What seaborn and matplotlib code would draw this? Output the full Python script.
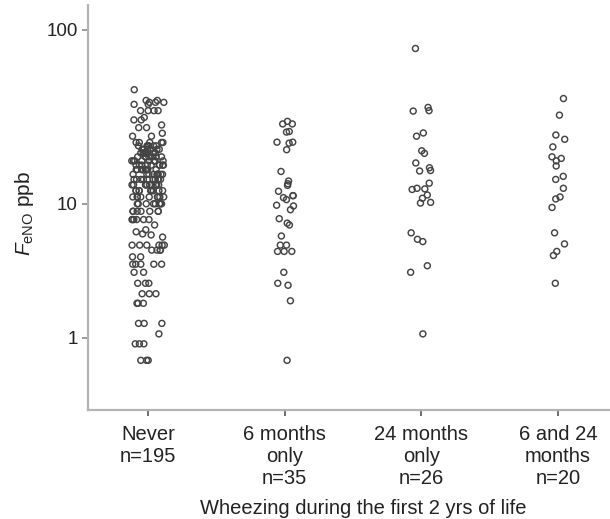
import numpy as np
import pandas as pd
import seaborn as sns
import matplotlib
matplotlib.use("Agg")
import matplotlib.pyplot as plt
from matplotlib.ticker import FixedLocator, NullLocator

# categories and tick labels
groups = ["Never", "6 months only", "24 months only", "6 and 24 months"]
tick_labels = ["Never\nn=195", "6 months\nonly\nn=35", "24 months\nonly\nn=26", "6 and 24\nmonths\nn=20"]

# FeNO (ppb); "Never" kept as value + count
never_vals = [46, 40, 39, 38, 35, 32, 31, 29, 28, 26, 25,
              23, 22, 21, 20, 19, 18, 17, 16, 15, 14, 13, 12, 11, 10, 9, 8,
              7.4, 6.9, 6.7, 6.5, 6.4, 6.2, 5.5, 5.1, 4.6, 4.1, 3.6, 3.0,
              2.5, 2.1, 1.4, 1.1, 0.85, 0.5]
never_counts = [1, 2, 3, 2, 4, 1, 2, 1, 2, 1, 2,
                5, 6, 7, 8, 8, 9, 9, 10, 10, 10, 10, 9, 9, 8, 7, 6,
                1, 1, 1, 1, 1, 1, 6, 4, 2, 5, 2, 3,
                3, 3, 3, 1, 3, 3]

m6_vals = [29.4, 29.4, 30.4, 26.4, 26.6, 23.1, 22.8, 23.1, 20.9, 15.6,
           13.2, 13.7, 12.9, 11.9, 11.2, 11.2, 10.9, 10.6, 9.8, 9.7,
           9.2, 7.6, 7.4, 8.1, 6.3, 5.5, 5.5, 5.0, 5.0, 5.0,
           3.6, 3.0, 2.9, 2.2, 0.5]

m24_vals = [78.4, 36.5, 34.8, 35.0, 26.1, 25.0, 20.6, 19.9, 17.5, 16.4,
            15.7, 15.8, 13.3, 12.2, 12.3, 12.4, 11.3, 10.8, 10.1, 10.2,
            6.6, 5.8, 6.0, 3.6, 4.0, 1.1]

both_vals = [41.0, 33.0, 25.4, 24.0, 21.7, 19.0, 18.6, 18.0, 16.8, 14.6,
             14.0, 12.4, 11.0, 10.7, 9.5, 6.6, 5.6, 5.0, 4.7, 3.0]

jitters = [0.12, 0.065, 0.085, 0.05]

group_vals = [list(np.repeat(never_vals, never_counts)), m6_vals, m24_vals, both_vals]

sns.set_theme(style="white")
plt.rcParams["font.family"] = ["Liberation Sans", "DejaVu Sans"]
plt.rcParams["mathtext.fontset"] = "custom"
plt.rcParams["mathtext.rm"] = "Liberation Sans"
plt.rcParams["mathtext.it"] = "Liberation Sans:italic"

np.random.seed(7)
fig = plt.figure(figsize=(6.1, 5.19), dpi=100)
ax = fig.add_axes([0.1443, 0.21, 0.8557, 0.78])

for g, vals, j in zip(groups, group_vals, jitters):
    d = pd.DataFrame({"group": [g] * len(vals), "feno": vals})
    sns.stripplot(data=d, x="group", y="feno", order=groups, jitter=j,
                  size=4.3, marker="o", ax=ax)

for coll in ax.collections:
    coll.set_facecolor("none")
    coll.set_edgecolor("#444444")
    coll.set_linewidth(1.05)

fwd = lambda v: np.log10(np.clip(np.asarray(v, dtype=float) + 1, 1e-9, None))
inv = lambda t: 10 ** np.asarray(t, dtype=float) - 1
ax.set_yscale("function", functions=(fwd, inv))
ax.set_ylim(-0.203, 136.8)
ax.set_xlim(-0.44, 3.38)

ax.yaxis.set_major_locator(FixedLocator([1, 10, 100]))
ax.yaxis.set_minor_locator(NullLocator())
ax.set_yticklabels(["1", "10", "100"])
ax.set_xticks(range(4))
ax.set_xticklabels(tick_labels, linespacing=1.2)

ax.tick_params(axis="y", which="major", left=True, length=4, width=1.2,
               color="#8a8a8a", labelsize=13.5, labelcolor="#222222", pad=3.5)
ax.tick_params(axis="x", which="major", bottom=True, length=4, width=1.2,
               color="#555555", labelsize=14.5, labelcolor="#222222", pad=7)

for s in ["top", "right"]:
    ax.spines[s].set_visible(False)
for s in ["left", "bottom"]:
    ax.spines[s].set_color("#b4b4b4")
    ax.spines[s].set_linewidth(1.6)

ax.set_xlabel("Wheezing during the first 2 yrs of life", fontsize=14.5,
              color="#222222")
ax.xaxis.set_label_coords(0.527, -0.22)
ax.set_ylabel(r"$\mathit{F}_{\mathrm{eNO}}$ ppb", fontsize=15,
              color="#222222")
ax.yaxis.set_label_coords(-0.1, 0.485)

fig.savefig("out.png", dpi=100)
